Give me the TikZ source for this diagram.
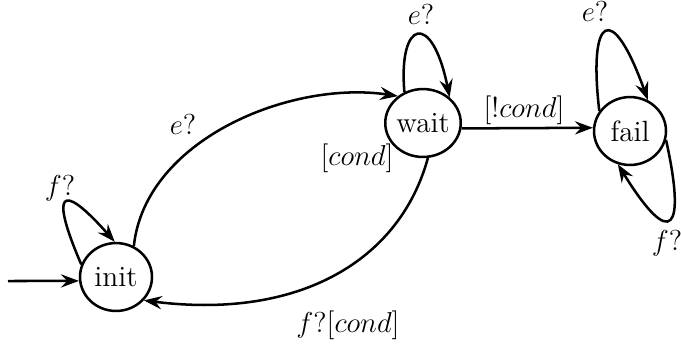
\documentclass[tikz,border=0pt]{standalone}
\usetikzlibrary{arrows.meta,shapes.geometric}
\begin{document}
\begin{tikzpicture}[x=0.4167pt,y=-0.4167pt,
  every node/.style={font=\fontsize{12.2pt}{14pt}\selectfont},
  state/.style={draw,ellipse,line width=1.05pt,minimum width=30pt,minimum height=28.3pt,inner sep=0pt},
  edge/.style={line width=1.05pt,-{Stealth[length=7.5pt,width=5.5pt,inset=2.6pt]}},
  lbl/.style={inner sep=0pt}]
\useasboundingbox (0,0) rectangle (681,347);
\node[state] (init) at (116,277) {init};
\node[state] (wait) at (423,123) {wait};
\node[state] (fail) at (630,131) {fail};
\coordinate (start) at (8,281);
% initial
\draw[edge] (start) -- (init.186);
% init self loop
\draw[edge] (init.160) .. controls (50,192) and (60,180) .. (init.92);
\node[lbl] (l1) at (60,188) {$f?$};
% init -> wait
\draw[edge] (init.60) .. controls (145,140) and (290,80) .. (wait.133);
\node[lbl] (l2) at (183,124) {$e?$};
% wait -> init
\draw[edge] (wait.-82) .. controls (400,260) and (300,320) .. (init.-40);
\node[lbl] (l3) at (357,158) {$[cond]$};
\node[lbl] (l4) at (348,325) {$f?[cond]$};
% wait self loop
\draw[edge] (wait.121) .. controls (398,20) and (432,10) .. (wait.44);
\node[lbl] (l5) at (421,14) {$e?$};
% wait -> fail
\draw[edge] (wait.-8) -- (fail.175);
\node[lbl] (l6) at (524,110) {$[!cond]$};
% fail loops
\draw[edge] (fail.147) .. controls (588,15) and (612,0) .. (fail.60);
\node[lbl] (l7) at (595,11) {$e?$};
\draw[edge] (fail.-14) .. controls (686,230) and (672,252) .. (fail.250);
\node[lbl] (l8) at (667,243) {$f?$};
\end{tikzpicture}
\end{document}
